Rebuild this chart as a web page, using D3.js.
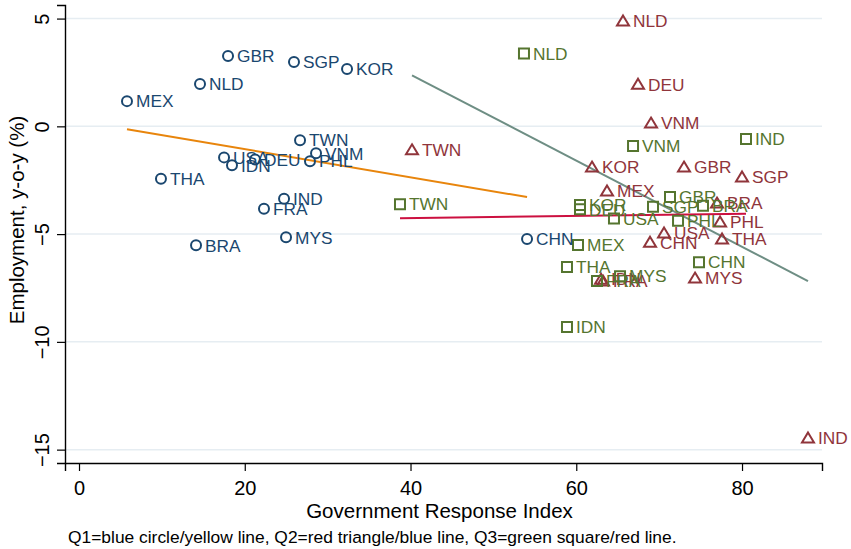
<!DOCTYPE html>
<html>
<head>
<meta charset="utf-8">
<script src="https://cdn.jsdelivr.net/npm/d3@7"></script>
<style>
  html, body { margin: 0; padding: 0; background: #fff; }
  svg { display: block; font-family: "Liberation Sans", Arial, sans-serif; }
</style>
</head>
<body>
<div id="chart"></div>
<script>
// Q1 - blue circles
const q1Names = ["MEX","NLD","GBR","SGP","KOR","TWN","VNM","PHL","USA","IDN","DEU","THA","IND","FRA","MYS","BRA","CHN"];
const q1Gri   = [5.79, 14.60, 17.98, 25.94, 32.34, 26.67, 28.60, 27.87, 17.50, 18.46, 21.24, 9.89, 24.74, 22.32, 24.98, 14.12, 54.06];
const q1Emp   = [1.17, 1.96, 3.26, 2.98, 2.66, -0.64, -1.25, -1.62, -1.44, -1.81, -1.54, -2.43, -3.36, -3.82, -5.15, -5.52, -5.23];

// Q2 - red triangles
const q2Names = ["NLD","DEU","VNM","TWN","KOR","GBR","SGP","MEX","BRA","PHL","USA","CHN","THA","MYS","FRA","IDN","IND"];
const q2Gri   = [65.64, 67.45, 69.02, 40.18, 61.90, 73.00, 80.00, 63.71, 76.98, 77.35, 70.59, 68.90, 77.59, 74.33, 63.23, 62.99, 87.96];
const q2Emp   = [4.89, 1.95, 0.15, -1.09, -1.89, -1.89, -2.35, -3.00, -3.56, -4.44, -4.95, -5.38, -5.23, -7.04, -7.18, -7.09, -14.46];

// Q3 - green squares
const q3Names = ["NLD","IND","VNM","TWN","GBR","KOR","DEU","SGP","USA","PHL","BRA","MEX","THA","CHN","FRA","MYS","IDN"];
const q3Gri   = [53.69, 80.48, 66.85, 38.73, 71.31, 60.45, 60.45, 69.26, 64.55, 72.28, 75.29, 60.21, 58.88, 74.81, 62.50, 65.28, 58.88];
const q3Emp   = [3.38, -0.59, -0.91, -3.61, -3.28, -3.65, -3.85, -3.73, -4.28, -4.38, -3.68, -5.51, -6.53, -6.30, -7.18, -6.95, -9.31];

// fitted lines (endpoints)
const q1Fit = [[5.79, -0.13], [54.06, -3.28]];
const q2Fit = [[40.18, 2.37], [87.96, -7.18]];
const q3Fit = [[38.73, -4.26], [80.48, -4.05]];

const xTicks = [0, 20, 40, 60, 80];
const yTicks = [5, 0, -5, -10, -15];

const W = 851, H = 549;
const svg = d3.select("#chart").append("svg")
  .attr("width", W).attr("height", H)
  .attr("viewBox", `0 0 ${W} ${H}`);

const plot = { left: 65, right: 822, top: 5, bottom: 463 };

const x = d3.scaleLinear().domain([-1.69, 89.65]).range([plot.left, plot.right]);
const y = d3.scaleLinear().domain([-15.62, 5.63]).range([plot.bottom, plot.top]);

// gridlines
svg.append("g")
  .selectAll("line")
  .data(yTicks)
  .join("line")
  .attr("x1", plot.left).attr("x2", plot.right)
  .attr("y1", d => y(d)).attr("y2", d => y(d))
  .attr("stroke", "#e6edf2")
  .attr("stroke-width", 1.5);

// axes
const xAxis = svg.append("g")
  .attr("transform", `translate(0,${plot.bottom})`)
  .call(d3.axisBottom(x).tickValues(xTicks).tickSizeOuter(0).tickSize(8).tickPadding(10));
xAxis.select(".domain").attr("stroke", "#000").attr("stroke-width", 1.4);
xAxis.selectAll(".tick line").attr("stroke", "#000").attr("stroke-width", 1.2);
xAxis.selectAll(".tick text")
  .attr("font-size", 20)
  .attr("font-family", "Liberation Sans, Arial, sans-serif")
  .attr("fill", "#000");

const yAxis = svg.append("g")
  .attr("transform", `translate(${plot.left},0)`)
  .call(d3.axisLeft(y).tickValues(yTicks).tickSizeOuter(0).tickSize(8));
yAxis.select(".domain").attr("stroke", "#000").attr("stroke-width", 1.4);
yAxis.selectAll(".tick line").attr("stroke", "#000").attr("stroke-width", 1.2);
yAxis.selectAll(".tick text")
  .attr("font-size", 20)
  .attr("font-family", "Liberation Sans, Arial, sans-serif")
  .attr("fill", "#000")
  .attr("text-anchor", "middle")
  .attr("x", null).attr("dy", null)
  .attr("transform", "translate(-16,0) rotate(-90)");

// axis titles + note
svg.append("text")
  .attr("x", (plot.left + plot.right) / 2 - 4)
  .attr("y", 518)
  .attr("text-anchor", "middle")
  .attr("font-size", 20.5)
  .text("Government Response Index");

svg.append("text")
  .attr("transform", `translate(24,${(plot.top + plot.bottom) / 2 - 14}) rotate(-90)`)
  .attr("text-anchor", "middle")
  .attr("font-size", 20.5)
  .text("Employment, y-o-y (%)");

svg.append("text")
  .attr("x", 68)
  .attr("y", 543)
  .attr("font-size", 17.4)
  .text("Q1=blue circle/yellow line, Q2=red triangle/blue line, Q3=green square/red line.");

// fit lines
const line = d3.line().x(d => x(d[0])).y(d => y(d[1]));
[[q1Fit, "#e8850c"], [q2Fit, "#6e8e84"], [q3Fit, "#cc1040"]].forEach(([pts, c]) => {
  svg.append("path")
    .attr("d", line(pts))
    .attr("fill", "none")
    .attr("stroke", c)
    .attr("stroke-width", 2);
});

// markers
const shapes = {
  circle:   "M5,0A5,5 0 1,1 -5,0A5,5 0 1,1 5,0Z",
  triangle: "M0,-5.5L6,4.5L-6,4.5Z",
  square:   "M-5,-5H5V5H-5Z"
};

function drawGroup(names, gri, emp, shape, color, dx) {
  const pts = names.map((n, i) => ({ name: n, gx: gri[i], ey: emp[i] }));
  const g = svg.append("g");
  g.selectAll("path")
    .data(pts)
    .join("path")
    .attr("transform", d => `translate(${x(d.gx)},${y(d.ey)})`)
    .attr("d", shapes[shape])
    .attr("fill", "none")
    .attr("stroke", color)
    .attr("stroke-width", 2);
  g.selectAll("text")
    .data(pts)
    .join("text")
    .attr("x", d => x(d.gx) + dx)
    .attr("y", d => y(d.ey))
    .attr("dy", "0.36em")
    .attr("font-size", 17.3)
    .attr("fill", color)
    .text(d => d.name);
}

drawGroup(q2Names, q2Gri, q2Emp, "triangle", "#90353b", 10);
drawGroup(q3Names, q3Gri, q3Emp, "square", "#55752f", 9);
drawGroup(q1Names, q1Gri, q1Emp, "circle", "#1a476f", 9);
</script>
</body>
</html>
